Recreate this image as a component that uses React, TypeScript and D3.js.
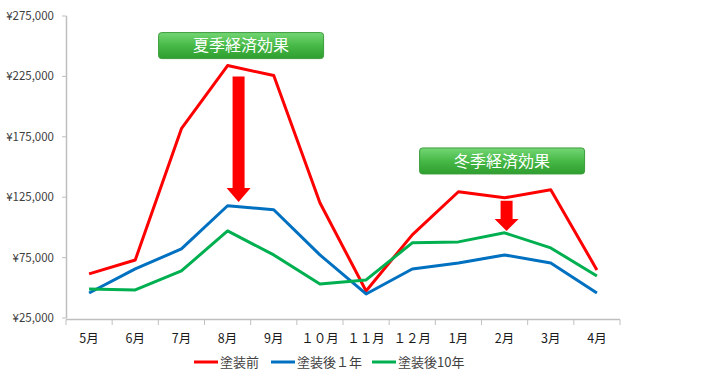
import React from "react";
import * as d3 from "d3";

const months = ["5月", "6月", "7月", "8月", "9月", "１０月", "１１月", "１２月", "1月", "2月", "3月", "4月"];
const beforePaint = [61500, 73000, 181700, 234000, 225700, 120400, 47400, 93800, 129500, 124500, 131100, 64800];
const after1Year = [45700, 65600, 82200, 117900, 114600, 77200, 44900, 65600, 70600, 77200, 70600, 45700];
const after10Year = [49000, 48200, 64000, 97100, 77200, 53200, 56500, 87200, 88000, 95500, 83000, 59800];
const yTicks = [25000, 75000, 125000, 175000, 225000, 275000];
const seriesNames = ["塗装前", "塗装後１年", "塗装後10年"];
const seriesColors = ["#ff0000", "#0070c0", "#00b050"];
const arrowCats = ["8月", "2月"];
const arrowFrom = [225000, 122000];
const arrowTo = [121000, 97000];
const badgeTexts = ["夏季経済効果", "冬季経済効果"];
const badgeCats = ["8月", "2月"];
const badgeValues = [250500, 155000];

const W = 714;
const H = 380;
const FONT = "'Noto Sans CJK JP', 'Noto Sans', sans-serif";

export default function App() {
  const x = d3.scaleBand<string>().domain(months).range([66, 620]);
  const y = d3.scaleLinear().domain([25000, 275000]).range([318, 16]);
  const cx = (m: string) => (x(m) as number) + x.bandwidth() / 2;
  const line = d3
    .line<number>()
    .x((_, i) => cx(months[i]))
    .y((d) => y(d));
  const series = [beforePaint, after1Year, after10Year];
  const fmt = (v: number) => "¥" + d3.format(",")(v);
  const badgeOffsets = [13.5, -2.5];

  return (
    <svg
      width={W}
      height={H}
      style={{ position: "absolute", left: 0, top: 0, background: "#fff" }}
      fontFamily={FONT}
    >
      <defs>
        <linearGradient id="badgeGrad" x1="0" y1="0" x2="0" y2="1">
          <stop offset="0" stopColor="#74d674" />
          <stop offset="0.5" stopColor="#47b947" />
          <stop offset="1" stopColor="#2e9e2e" />
        </linearGradient>
      </defs>
      {/* Y axis */}
      <line x1={66.5} x2={66.5} y1={y(275000)} y2={y(25000)} stroke="#bfbfbf" strokeWidth={1.5} />
      {yTicks.map((t) => (
        <g key={t}>
          <line x1={62} x2={66.5} y1={y(t)} y2={y(t)} stroke="#bfbfbf" strokeWidth={1} />
          <text x={54} y={y(t)} dy="0.35em" textAnchor="end" fontSize={11.5} fill="#404040">
            {fmt(t)}
          </text>
        </g>
      ))}
      {/* X axis */}
      <line x1={66} x2={620} y1={319.5} y2={319.5} stroke="#bfbfbf" strokeWidth={1.5} />
      {months.concat(["end"]).map((m, i) => {
        const xx = 66 + i * x.step();
        return <line key={"t" + i} x1={xx} x2={xx} y1={319.5} y2={325} stroke="#bfbfbf" strokeWidth={1} />;
      })}
      {months.map((m) => (
        <text key={m} x={cx(m)} y={343} textAnchor="middle" fontSize={12.5} fill="#1a1a1a">
          {m}
        </text>
      ))}
      {/* Lines */}
      {series.map((s, i) => (
        <path key={i} d={line(s) as string} fill="none" stroke={seriesColors[i]} strokeWidth={3} strokeLinejoin="round" />
      ))}
      {/* Arrows */}
      {arrowCats.map((c, i) => {
        const ax = cx(c) + (i === 0 ? 11 : 2);
        const y0 = y(arrowFrom[i]);
        const y1 = y(arrowTo[i]);
        const headH = i === 0 ? 14 : 12;
        const sw = 6;
        const hw = 12;
        const p = [
          [ax - sw, y0],
          [ax + sw, y0],
          [ax + sw, y1 - headH],
          [ax + hw, y1 - headH],
          [ax, y1],
          [ax - hw, y1 - headH],
          [ax - sw, y1 - headH],
        ];
        return <polygon key={"a" + i} points={p.map((q) => q.join(",")).join(" ")} fill="#ff0000" />;
      })}
      {/* Badges */}
      {badgeTexts.map((t, i) => {
        const bx = cx(badgeCats[i]) + badgeOffsets[i];
        const by = y(badgeValues[i]);
        return (
          <g key={t}>
            <rect x={bx - 82.5} y={by - 13} width={165} height={26} rx={3} fill="url(#badgeGrad)" stroke="#3c9c3c" strokeWidth={1} />
            <text x={bx} y={by} dy="0.36em" textAnchor="middle" fontSize={16} fill="#ffffff">
              {t}
            </text>
          </g>
        );
      })}
      {/* Legend */}
      {seriesNames.map((n, i) => {
        const lx = [194, 271, 372][i];
        return (
          <g key={n}>
            <line x1={lx} x2={lx + 24} y1={362} y2={362} stroke={seriesColors[i]} strokeWidth={3} />
            <text x={lx + 26} y={362} dy="0.35em" fontSize={13} fill="#404040">
              {n}
            </text>
          </g>
        );
      })}
    </svg>
  );
}
